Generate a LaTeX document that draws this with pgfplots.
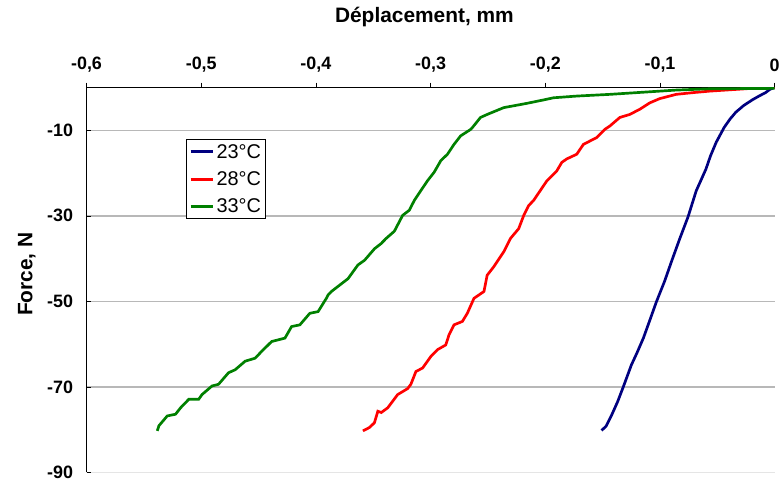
\documentclass[border=0pt]{standalone}
\usepackage{pgfplots}
\pgfplotsset{compat=1.18}
\usepackage{fontspec}
\setmainfont{Liberation Sans}

\definecolor{c23}{RGB}{0,0,128}
\definecolor{c28}{RGB}{255,0,0}
\definecolor{c33}{RGB}{0,128,0}

\begin{document}
\begin{tikzpicture}
\begin{axis}[
    name=main,
    width=692pt, height=387pt, scale only axis,
    xmin=-0.6, xmax=0, ymin=-90, ymax=0,
    axis x line*=top, axis y line*=left,
    axis line style={-, black, line width=0.8pt},
    xtick={-0.6,-0.5,-0.4,-0.3,-0.2,-0.1,0},
    ytick={-70,-50,-30,-10},
    extra y ticks={-90},
    extra y tick style={grid style={color=black!10, line width=1.5pt}},
    xtick align=outside, ytick align=inside,
    major tick length=5pt,
    tick style={black, line width=0.6pt},
    ymajorgrids,
    grid style={color=black!28, line width=1.5pt},
    /pgf/number format/assume math mode=true,
    ticklabel style={font=\bfseries\fontsize{18}{20}\selectfont},
    xticklabel style={yshift=7pt, /pgf/number format/.cd, use comma, fixed, precision=1},
    yticklabel style={xshift=-10pt, /pgf/number format/.cd, fixed, precision=0},
    xlabel={Déplacement, mm},
    ylabel={Force, N},
    label style={font=\bfseries\fontsize{21}{24}\selectfont},
    xlabel style={at={(axis description cs:0.491,1.1835)}, anchor=center},
    ylabel style={at={(axis description cs:-0.0867,0.515)}, anchor=center},
    legend style={at={(axis cs:-0.513,-12.1)}, anchor=north west,
        draw=black, line width=0.8pt, fill=white,
        font=\fontsize{20}{22}\selectfont,
        row sep=8pt, inner sep=2.5pt},
    legend cell align=left,
    legend image post style={line width=2.8pt},
    legend image code/.code={\draw[#1] (0cm,0cm) -- (0.8cm,0cm);},
]
\addplot[c23, line width=2.7pt] coordinates {
(0,0) (-0.004,-0.4) (-0.008,-1.2) (-0.013,-1.9) (-0.019,-2.8) (-0.027,-4.2)
(-0.034,-5.8) (-0.039,-7.4) (-0.044,-9.3) (-0.051,-12.8) (-0.056,-16)
(-0.060,-19.1) (-0.0685,-24.2) (-0.0755,-30.2) (-0.083,-35.5) (-0.090,-40.7)
(-0.096,-45.3) (-0.103,-50) (-0.109,-54.5) (-0.1145,-58.6) (-0.120,-62)
(-0.125,-64.9) (-0.132,-70) (-0.137,-73.5) (-0.142,-76.5) (-0.147,-79.2)
(-0.151,-80.2)
};
\addlegendentry{23°C}
\addplot[c28, line width=2.7pt] coordinates {
(0,0) (-0.02,-0.2) (-0.0353,-0.47) (-0.057,-0.85) (-0.0714,-1.2) (-0.0859,-1.6)
(-0.1003,-2.6) (-0.109,-3.6) (-0.1177,-5.1) (-0.1264,-6.3) (-0.135,-7)
(-0.1437,-9) (-0.148,-9.77) (-0.1552,-11.7) (-0.161,-12.5) (-0.1668,-13.3)
(-0.1726,-15.6) (-0.1813,-16.7) (-0.1856,-17.5) (-0.19,-19.5) (-0.1986,-21.8)
(-0.2044,-24.1) (-0.2102,-26.4) (-0.2145,-27.6) (-0.2188,-29.9) (-0.2232,-33)
(-0.2304,-35.3) (-0.2362,-38.4) (-0.2449,-41.9) (-0.2507,-43.9) (-0.2535,-47.7)
(-0.2622,-49.3) (-0.268,-52.8) (-0.2723,-54.7) (-0.2796,-55.5) (-0.2839,-57.8)
(-0.2868,-60.2) (-0.294,-61.3) (-0.2998,-62.9) (-0.307,-65.6) (-0.3128,-66.4)
(-0.3172,-69.4) (-0.32,-70.4) (-0.3287,-71.8) (-0.3374,-74.9) (-0.343,-76)
(-0.346,-75.7) (-0.349,-78.4) (-0.3533,-79.5) (-0.359,-80.3)
};
\addlegendentry{28°C}
\addplot[c33, line width=2.7pt] coordinates {
(0,-0.2) (-0.057,-0.3) (-0.086,-0.6) (-0.1148,-1.1) (-0.1437,-1.6)
(-0.1726,-2) (-0.1928,-2.4) (-0.2015,-2.9) (-0.216,-3.7) (-0.2362,-4.7)
(-0.2507,-6.3) (-0.2565,-7) (-0.2637,-9.4) (-0.2651,-9.8) (-0.2738,-11.3)
(-0.2796,-13.3) (-0.2853,-15.6) (-0.2911,-17.1) (-0.2969,-19.8) (-0.3027,-21.8)
(-0.3085,-24.1) (-0.3142,-26.4) (-0.3186,-28.7) (-0.3244,-29.9) (-0.3316,-33.6)
(-0.3388,-35.3) (-0.3432,-36.5) (-0.3489,-37.7) (-0.3576,-40.4) (-0.3634,-41.5)
(-0.372,-44.7) (-0.3865,-47.7) (-0.3894,-48.5) (-0.3909,-49.3) (-0.3981,-52.4)
(-0.4053,-52.8) (-0.414,-55.5) (-0.4212,-55.9) (-0.427,-58.6) (-0.4386,-59.4)
(-0.4473,-61.7) (-0.453,-63.3) (-0.4617,-64) (-0.4704,-66) (-0.4762,-66.7)
(-0.4849,-69.4) (-0.4906,-69.8) (-0.4993,-71.8) (-0.5022,-72.9) (-0.5108,-72.9)
(-0.518,-74.9) (-0.5224,-76.4) (-0.5296,-76.8) (-0.5369,-79.1) (-0.5383,-80.3)
};
\addlegendentry{33°C}
\end{axis}
\path ([xshift=-87pt,yshift=-11pt]main.south west) rectangle ([xshift=4pt,yshift=88pt]main.north east);
\end{tikzpicture}
\end{document}
